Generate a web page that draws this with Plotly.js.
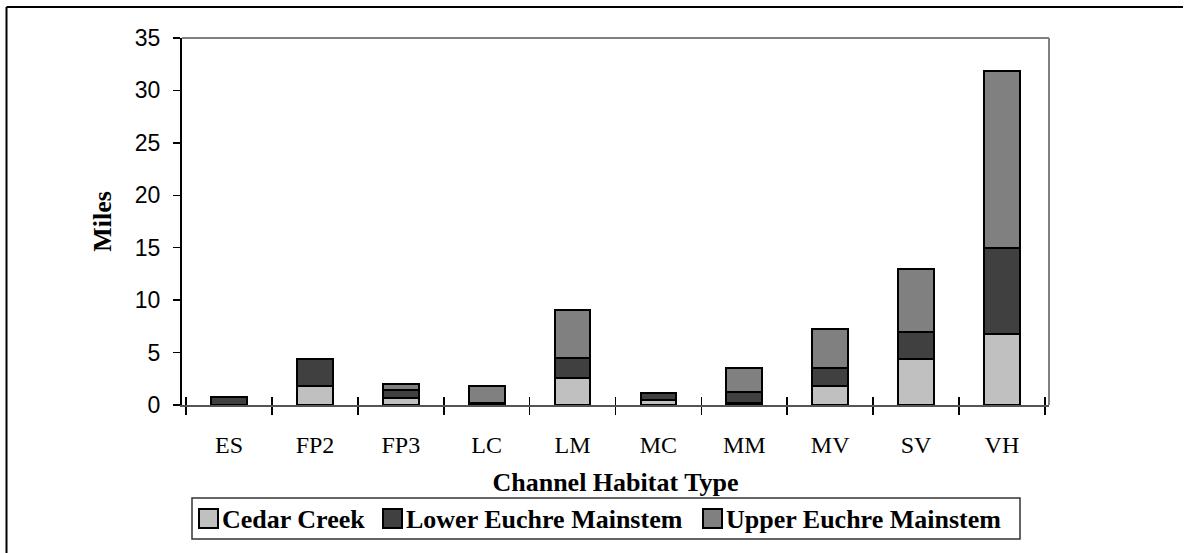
<!DOCTYPE html>
<html>
<head>
<meta charset="utf-8">
<script src="https://cdn.plot.ly/plotly-3.0.1.min.js"></script>
<style>
html,body{margin:0;padding:0;background:#fff;}
#chart{width:1188px;height:553px;}
</style>
</head>
<body>
<div id="chart"></div>
<script>
const categories = ["ES","FP2","FP3","LC","LM","MC","MM","MV","SV","VH"];
const seriesNames = ["Cedar Creek","Lower Euchre Mainstem","Upper Euchre Mainstem"];
const cedarCreek = [0, 1.8, 0.7, 0, 2.55, 0.5, 0.2, 1.85, 4.35, 6.8];
const lowerEuchre = [0.75, 2.55, 0.75, 0.15, 1.95, 0.6, 1.05, 1.65, 2.65, 8.15];
const upperEuchre = [0, 0, 0.55, 1.7, 4.55, 0, 2.3, 3.75, 6.0, 16.9];
const seriesColors = ["#c0c0c0", "#404040", "#808080"];
const yTicks = [0,5,10,15,20,25,30,35];

const W = 1188, H = 553;
const L = 182, R = 1049, T = 38, B = 405;
const px = p => (p - L) / (R - L);
const py = q => (B - q) / (B - T);

const seriesValues = [cedarCreek, lowerEuchre, upperEuchre];
const traces = seriesValues.map((vals, i) => ({
  type: 'bar',
  name: seriesNames[i],
  x: categories,
  y: vals,
  marker: {color: seriesColors[i], line: {color: '#000', width: 2}},
  showlegend: false,
  hoverinfo: 'x+y+name'
}));
// helper trace for the inner half of the crossing category ticks
traces.push({type:'scatter', mode:'markers', x: categories, y: categories.map(() => null),
  xaxis:'x2', yaxis:'y', showlegend:false, hoverinfo:'skip', marker:{opacity:0}});

const shapes = [
  // outer chart border (left and top)
  {type:'line', xref:'paper', yref:'paper', x0:px(6.5), x1:px(6.5), y0:py(7), y1:py(600), line:{color:'#000', width:2}},
  {type:'line', xref:'paper', yref:'paper', x0:px(6.5), x1:px(1183), y0:py(7), y1:py(7), line:{color:'#000', width:2}},
  // plot area frame (top and right, grey)
  {type:'line', xref:'paper', yref:'paper', x0:0, x1:1, y0:1, y1:1, line:{color:'#808080', width:2}},
  {type:'line', xref:'paper', yref:'paper', x0:1, x1:1, y0:0, y1:1, line:{color:'#808080', width:2}},
  // legend box
  {type:'rect', xref:'paper', yref:'paper', x0:px(192), x1:px(1020), y0:py(498), y1:py(539), line:{color:'#333', width:1.5}, fillcolor:'rgba(0,0,0,0)'}
];
const legendSquares = [199, 383, 703];
const annotations = [];
legendSquares.forEach((sx, i) => {
  shapes.push({type:'rect', xref:'paper', yref:'paper', x0:px(sx), x1:px(sx+19), y0:py(509), y1:py(528),
    line:{color:'#000', width:2}, fillcolor: seriesColors[i]});
  annotations.push({xref:'paper', yref:'paper', x:px(sx+21), y:py(519.5), xanchor:'left', yanchor:'middle',
    showarrow:false, text:'<b>' + seriesNames[i] + '</b>',
    font:{family:'"Liberation Serif", "Times New Roman", serif', size:26, color:'#000'}});
});

const layout = {
  width: W, height: H,
  margin: {l: L, r: W - R, t: T, b: H - B, pad: 0},
  paper_bgcolor: '#fff', plot_bgcolor: '#fff',
  barmode: 'stack',
  bargap: 0.585,
  showlegend: false,
  xaxis: {
    type:'category', categoryorder:'array', categoryarray: categories,
    tickson:'boundaries', ticks:'outside', ticklen:8, tickwidth:1.5, tickcolor:'#000',
    showline:true, linecolor:'#555', linewidth:2, showgrid:false, zeroline:false,
    tickfont:{family:'"Liberation Serif", "Times New Roman", serif', size:24, color:'#000'},
    ticklabelstandoff: 17,
    title:{text:'<b>Channel Habitat Type</b>', standoff: 16,
      font:{family:'"Liberation Serif", "Times New Roman", serif', size:26, color:'#000'}}
  },
  xaxis2: {
    type:'category', overlaying:'x', matches:'x', categoryorder:'array', categoryarray: categories,
    tickson:'boundaries', ticks:'inside', ticklen:8, tickwidth:1.5, tickcolor:'#000',
    showticklabels:false, showline:false, showgrid:false, zeroline:false
  },
  yaxis: {
    range:[0,35], tickmode:'array', tickvals: yTicks, ticktext: yTicks.map(String),
    ticks:'outside', ticklen:7, tickwidth:1.5, tickcolor:'#000',
    showline:true, linecolor:'#000', linewidth:2, showgrid:false, zeroline:false,
    tickfont:{family:'"Liberation Sans", Arial, sans-serif', size:23, color:'#000'},
    ticklabelstandoff: 8,
    title:{text:'<b>Miles</b>', standoff: 16,
      font:{family:'"Liberation Serif", "Times New Roman", serif', size:26, color:'#000'}}
  },
  shapes: shapes,
  annotations: annotations
};

Plotly.newPlot('chart', traces, layout, {displayModeBar:false, staticPlot:true});
</script>
</body>
</html>
